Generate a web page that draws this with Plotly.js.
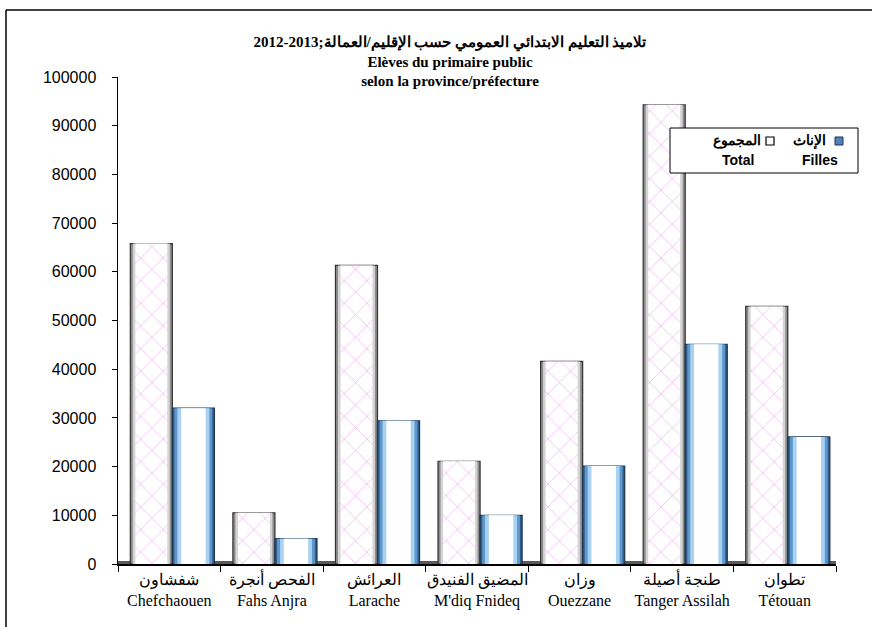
<!DOCTYPE html>
<html>
<head>
<meta charset="utf-8">
<script src="https://cdn.plot.ly/plotly-3.0.1.min.js"></script>
<style>
html,body{margin:0;padding:0;background:#fff;}
#chart{width:872px;height:627px;}
</style>
</head>
<body>
<div id="chart"></div>
<script>
// ---- data ----
const provincesAr = ["شفشاون", "الفحص أنجرة", "العرائش", "المضيق الفنيدق", "وزان", "طنجة أصيلة", "تطوان"];
const provincesFr = ["Chefchaouen", "Fahs Anjra", "Larache", "M'diq Fnideq", "Ouezzane", "Tanger Assilah", "Tétouan"];
const totalValues = [65800, 10500, 61300, 21100, 41600, 94300, 52900];
const fillesValues = [32000, 5200, 29400, 10000, 20100, 45100, 26100];
const yTickValues = [0, 10000, 20000, 30000, 40000, 50000, 60000, 70000, 80000, 90000, 100000];

const labels = provincesAr.map((a, i) => a + "<br>" + provincesFr[i]);

// ---- layout helpers (pixel -> paper) ----
const W = 872, H = 627;
const L = 118, R = 836, T = 77, B = 564;
const px = x => (x - L) / (R - L);
const py = y => (B - y) / (B - T);

const barW = 0.41;
const totalOff = -0.38;
const fillesOff = 0.03;

function layer(values, off, frac, color, lineColor, lineW, pattern) {
  const w = barW * frac;
  const o = off + (barW - w) / 2;
  const m = {color: color, line: {color: lineColor, width: lineW}};
  if (pattern) m.pattern = pattern;
  return {
    type: 'bar', x: labels, y: values, width: labels.map(() => w), offset: labels.map(() => o),
    marker: m, showlegend: false, hoverinfo: 'skip'
  };
}

const traces = [
  // Total cylinder (grey edges, white centre with pink marks)
  layer(totalValues, totalOff, 1.0, '#8c8c8c', '#333333', 1.2),
  layer(totalValues, totalOff, 0.88, '#d4d4d4', 'rgba(0,0,0,0)', 0),
  layer(totalValues, totalOff, 0.76, '#ffffff', 'rgba(0,0,0,0)', 0,
        {shape: 'x', fgcolor: '#e050e0', bgcolor: '#ffffff', size: 16, solidity: 0.04}),
  // Filles cylinder (blue edges, white centre)
  layer(fillesValues, fillesOff, 1.0, '#2f5c88', '#1f3550', 1.2),
  layer(fillesValues, fillesOff, 0.9, '#5e97cc', 'rgba(0,0,0,0)', 0),
  layer(fillesValues, fillesOff, 0.76, '#a9d2f2', 'rgba(0,0,0,0)', 0),
  layer(fillesValues, fillesOff, 0.58, '#ffffff', 'rgba(0,0,0,0)', 0)
];

const legendBox = {x0: 670, x1: 858, y0: 128, y1: 173};

const shapes = [
  // outer frame (top & left visible)
  {type: 'line', xref: 'paper', yref: 'paper', x0: px(6), x1: px(872), y0: py(10), y1: py(10), line: {color: '#000', width: 1.5}},
  {type: 'line', xref: 'paper', yref: 'paper', x0: px(6), x1: px(6), y0: py(10), y1: py(627), line: {color: '#000', width: 1.5}},
  // floor band
  {type: 'rect', xref: 'paper', yref: 'paper', x0: 0, x1: 1, y0: 0, y1: py(561), fillcolor: '#5a5a5a', line: {width: 0}, layer: 'below'},
  // legend box
  {type: 'rect', xref: 'paper', yref: 'paper', x0: px(legendBox.x0), x1: px(legendBox.x1), y0: py(legendBox.y1), y1: py(legendBox.y0),
   fillcolor: '#ffffff', line: {color: '#000', width: 1}},
  // legend swatches
  {type: 'rect', xref: 'paper', yref: 'paper', x0: px(766), x1: px(774), y0: py(145), y1: py(137), fillcolor: '#ffffff', line: {color: '#000', width: 1.2}},
  {type: 'rect', xref: 'paper', yref: 'paper', x0: px(835), x1: px(843), y0: py(145), y1: py(137), fillcolor: '#4f81bd', line: {color: '#1f3550', width: 1}}
];

const legFont = {family: 'Liberation Sans, Arial, sans-serif', size: 14, color: '#000'};
const annotations = [
  {xref: 'paper', yref: 'paper', x: px(763), y: py(141), text: '<b>المجموع</b>', showarrow: false, xanchor: 'right', yanchor: 'middle', font: legFont},
  {xref: 'paper', yref: 'paper', x: px(738), y: py(160), text: '<b>Total</b>', showarrow: false, xanchor: 'center', yanchor: 'middle', font: legFont},
  {xref: 'paper', yref: 'paper', x: px(828), y: py(141), text: '<b>الإناث</b>', showarrow: false, xanchor: 'right', yanchor: 'middle', font: legFont},
  {xref: 'paper', yref: 'paper', x: px(820), y: py(160), text: '<b>Filles</b>', showarrow: false, xanchor: 'center', yanchor: 'middle', font: legFont}
];

const layout = {
  width: W, height: H,
  margin: {l: L, r: W - R, t: T, b: H - B, pad: 0},
  paper_bgcolor: '#ffffff', plot_bgcolor: '#ffffff',
  barmode: 'overlay',
  showlegend: false,
  title: {
    text: '<b>تلاميذ التعليم الابتدائي العمومي حسب الإقليم/العمالة;\u200F2012-2013</b><br><b>Elèves du primaire public</b><br><b>selon la province/préfecture</b>',
    x: 450 / W, xanchor: 'center', xref: 'container',
    y: 1 - 47 / H, yanchor: 'top', yref: 'container',
    font: {family: 'Liberation Serif, Times New Roman, serif', size: 15, color: '#000'}
  },
  xaxis: {
    type: 'category', categoryorder: 'array', categoryarray: labels,
    showline: true, linecolor: '#000', linewidth: 1.5,
    ticks: 'outside', tickson: 'boundaries', ticklen: 6, tickcolor: '#000', tickwidth: 1,
    tickangle: 0,
    showgrid: false, zeroline: false,
    tickfont: {family: 'Liberation Serif, Times New Roman, serif', size: 16, color: '#000'},
    range: [-0.5, 6.5]
  },
  yaxis: {
    range: [0, 100000], tickvals: yTickValues, ticktext: yTickValues.map(String),
    showline: true, linecolor: '#000', linewidth: 1.5,
    ticks: 'outside', ticklen: 5, tickcolor: '#000',
    ticklabelstandoff: 12,
    showgrid: false, zeroline: false,
    tickfont: {family: 'Liberation Sans, Arial, sans-serif', size: 16, color: '#000'}
  },
  shapes: shapes,
  annotations: annotations
};

Plotly.newPlot('chart', traces, layout, {displayModeBar: false, staticPlot: true});
</script>
</body>
</html>
